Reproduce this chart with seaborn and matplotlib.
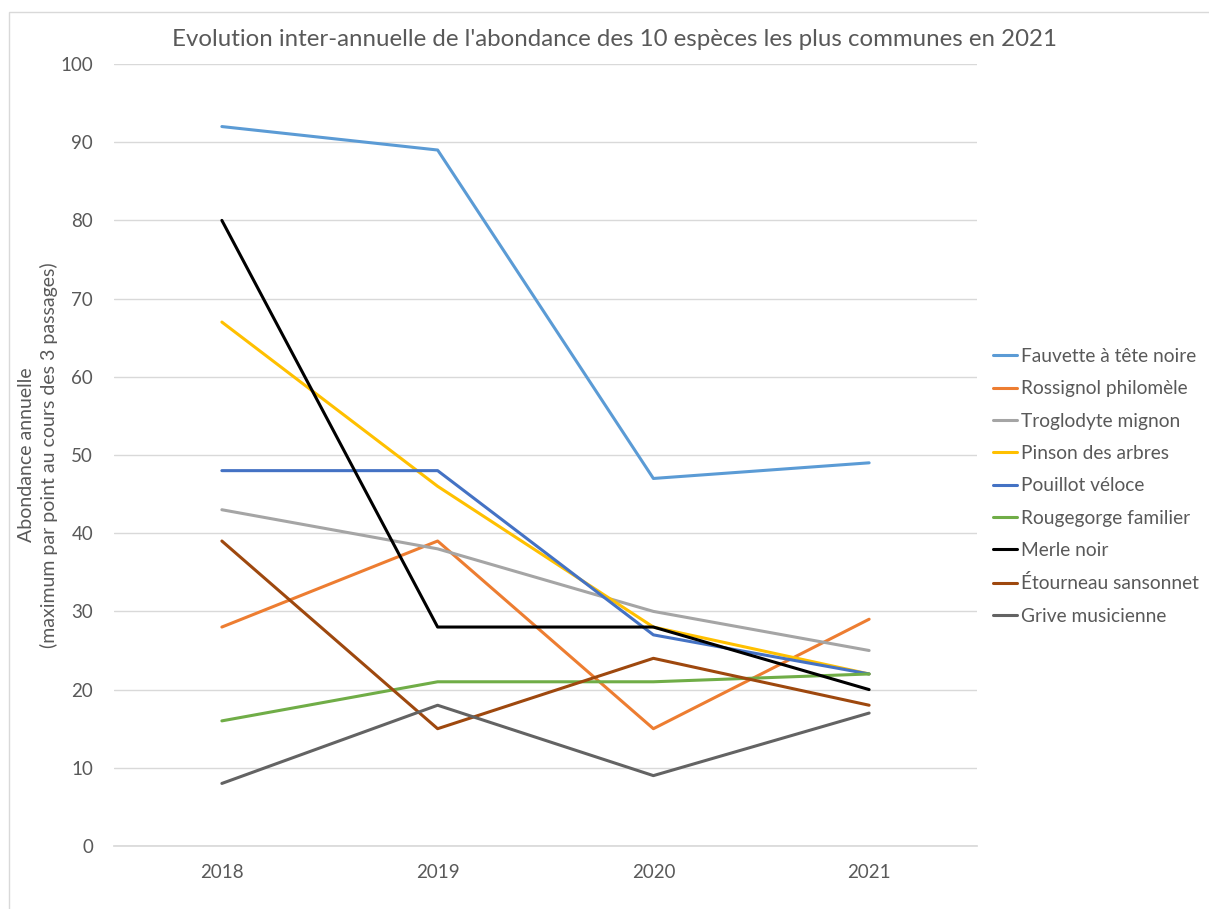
import matplotlib
matplotlib.use("Agg")
import matplotlib.pyplot as plt
import seaborn as sns
import pandas as pd

years = ["2018", "2019", "2020", "2021"]
species = ["Fauvette à tête noire", "Rossignol philomèle", "Troglodyte mignon",
           "Pinson des arbres", "Pouillot véloce", "Rougegorge familier",
           "Merle noir", "Étourneau sansonnet", "Grive musicienne"]
fauvette = [92, 89, 47, 49]
rossignol = [28, 39, 15, 29]
troglodyte = [43, 38, 30, 25]
pinson = [67, 46, 28, 22]
pouillot = [48, 48, 27, 22]
rougegorge = [16, 21, 21, 22]
merle = [80, 28, 28, 20]
etourneau = [39, 15, 24, 18]
grive = [8, 18, 9, 17]
series = [fauvette, rossignol, troglodyte, pinson, pouillot, rougegorge, merle, etourneau, grive]
colors = ["#5B9BD5", "#ED7D31", "#A5A5A5", "#FFC000", "#4472C4", "#70AD47",
          "#000000", "#9E480E", "#636363"]

rows = []
for name, vals in zip(species, series):
    for i, (y, v) in enumerate(zip(years, vals)):
        rows.append({"idx": i, "Année": y, "Espèce": name, "Valeur": v})
df = pd.DataFrame(rows)

sns.set_theme(style="white")
plt.rcParams['font.family'] = ['Lato', 'DejaVu Sans']
TXT = "#595959"

fig = plt.figure(figsize=(12.09, 9.09), dpi=100)
ax = fig.add_axes([114 / 1209, 63 / 909, (977 - 114) / 1209, (846 - 64) / 909])

sns.lineplot(data=df, x="idx", y="Valeur", hue="Espèce", hue_order=species,
             palette=dict(zip(species, colors)), linewidth=2.2, ax=ax,
             sort=False, estimator=None)

ax.set_xlim(-0.5, 3.5)
ax.set_ylim(0, 100)
ax.set_xticks(range(len(years)))
ax.set_xticklabels(years)
ax.set_yticks(range(0, 101, 10))
ax.yaxis.grid(True, color="#D9D9D9", linewidth=1)
ax.set_axisbelow(True)
for s in ["top", "right", "left"]:
    ax.spines[s].set_visible(False)
ax.spines["bottom"].set_color("#D9D9D9")
ax.tick_params(axis="y", labelsize=13.5, colors=TXT, length=0, pad=15)
ax.tick_params(axis="x", labelsize=13.5, colors=TXT, length=0, pad=13)
ax.set_xlabel("")
ax.set_ylabel("")
fig.text(38 / 1209, 1 - 455 / 909,
         "Abondance annuelle\n(maximum par point au cours des 3 passages)",
         rotation=90, ha="center", va="center", fontsize=14, color=TXT,
         multialignment="center", linespacing=1.3)
fig.text(615 / 1209, 1 - 40 / 909,
         "Evolution inter-annuelle de l'abondance des 10 espèces les plus communes en 2021",
         ha="center", va="center", fontsize=17.3, color=TXT)

leg = ax.legend(loc="center left", bbox_to_anchor=(0.998, 0.46), frameon=False,
                fontsize=13.8, handlelength=1.3, handletextpad=0.2, labelspacing=0.8,
                labelcolor=TXT)
for line in leg.get_lines():
    line.set_linewidth(2.2)

fig.patches.append(plt.Rectangle((9 / 1209, -0.01), 1.2, 1 - 12 / 909 + 0.01,
                                 transform=fig.transFigure,
                                 fill=False, edgecolor="#D9D9D9", linewidth=1))

fig.savefig("out.png", dpi=100, facecolor="white")
